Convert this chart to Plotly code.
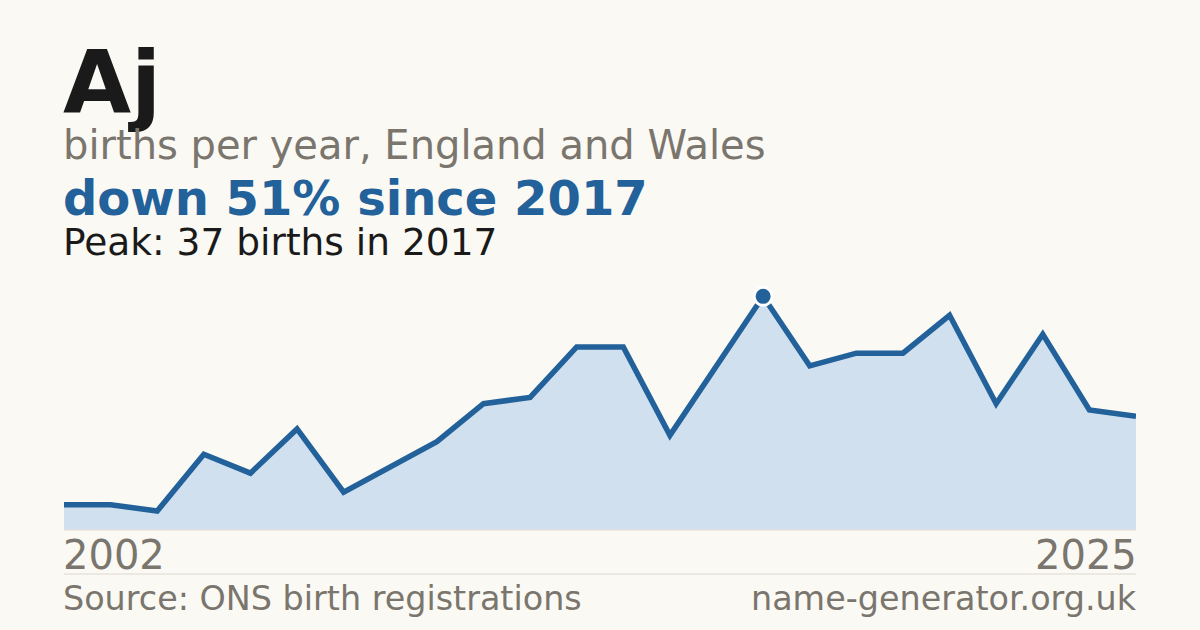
import plotly.graph_objects as go

# Births per year for the name "Aj", England and Wales
years = list(range(2002, 2026))
births = [4, 4, 3, 12, 9, 16, 6, 10, 14, 20, 21, 29, 29, 15, 26, 37, 26, 28, 28, 34, 20, 31, 19, 18]

name = "Aj"
subtitle = "births per year, England and Wales"
headline = "down 51% since 2017"
peak_note = "Peak: 37 births in 2017"
source = "Source: ONS birth registrations"
site = "name-generator.org.uk"

BG = "#faf9f4"
BLUE = "#22619a"
FILL = "#d0e0ef"
GREY = "#7a756d"
INK = "#1a1a1a"
FONT = "DejaVu Sans, sans-serif"

W, H = 1200, 630
L, R, T, B = 64, 64, 273, 100
PH = H - T - B
PW = W - L - R
PAD = 3 / PW  # annotation padding compensation


def py(pix):
    # pixel row -> paper y
    return (H - B - pix) / PH


peak_i = births.index(max(births))

fig = go.Figure()
fig.add_trace(go.Scatter(
    x=years, y=births, mode="lines",
    line=dict(color=BLUE, width=5.5),
    fill="tozeroy", fillcolor=FILL,
    hoverinfo="skip",
))
fig.add_trace(go.Scatter(
    x=[years[peak_i]], y=[births[peak_i]], mode="markers",
    marker=dict(color=BLUE, size=18, line=dict(color="white", width=3)),
    hoverinfo="skip",
))

ann = [
    dict(text=f"<b>{name}</b>", x=-PAD, y=py(82), size=88, color=INK, xanchor="left"),
    dict(text=subtitle, x=-PAD, y=py(145), size=40, color=GREY, xanchor="left"),
    dict(text=f"<b>{headline}</b>", x=-PAD, y=py(198), size=48, color=BLUE, xanchor="left"),
    dict(text=peak_note, x=-PAD, y=py(242), size=37.5, color=INK, xanchor="left"),
    dict(text=str(years[0]), x=-PAD, y=py(555), size=40, color=GREY, xanchor="left"),
    dict(text=str(years[-1]), x=1 + PAD, y=py(555), size=40, color=GREY, xanchor="right"),
    dict(text=source, x=-PAD, y=py(598), size=33.4, color=GREY, xanchor="left"),
    dict(text=site, x=1 + PAD, y=py(598), size=33.4, color=GREY, xanchor="right"),
]
for a in ann:
    fig.add_annotation(
        text=a["text"], x=a["x"], y=a["y"], xref="paper", yref="paper",
        xanchor=a["xanchor"], yanchor="middle", showarrow=False,
        font=dict(family=FONT, size=a["size"], color=a["color"]),
    )

# baseline and separator rules
fig.add_shape(type="line", xref="paper", yref="paper", x0=0, x1=1, y0=py(530), y1=py(530),
              line=dict(color="#e6dfd3", width=1))
fig.add_shape(type="line", xref="paper", yref="paper", x0=0, x1=1, y0=py(574), y1=py(574),
              line=dict(color="#dcd8d0", width=1))

fig.update_xaxes(range=[years[0], years[-1]], visible=False, fixedrange=True)
fig.update_yaxes(range=[0, max(births) * 1.1], visible=False, fixedrange=True)
fig.update_layout(
    width=W, height=H, showlegend=False,
    paper_bgcolor=BG, plot_bgcolor=BG,
    margin=dict(l=L, r=R, t=T, b=B),
)
fig.write_html("out.html", config={"staticPlot": True},
               post_script="document.body.style.margin='0';")
